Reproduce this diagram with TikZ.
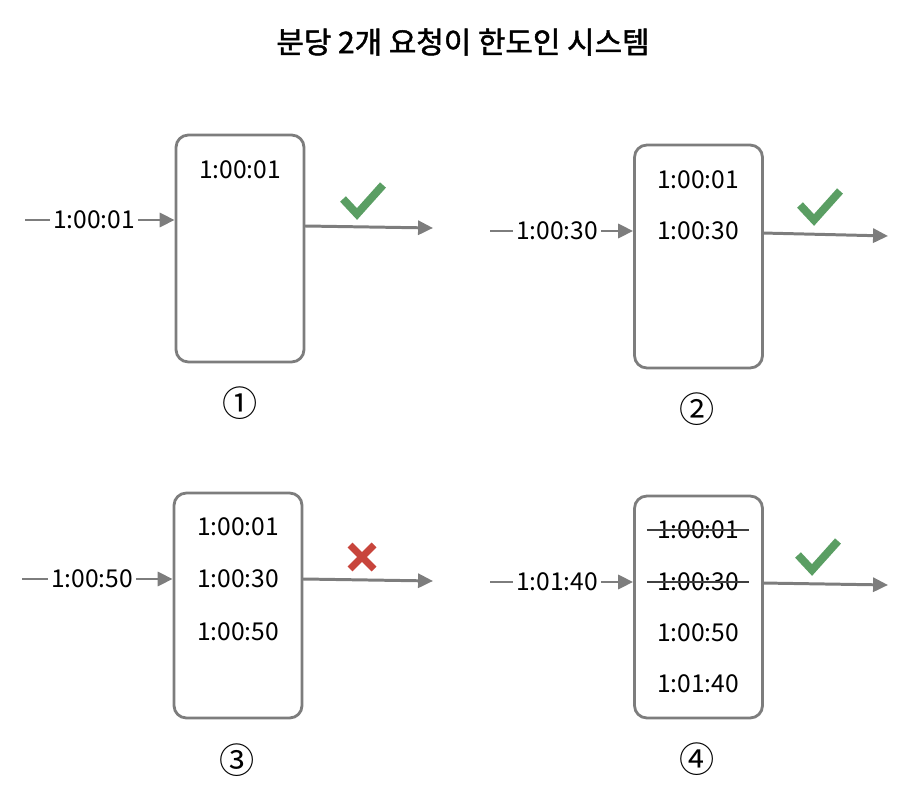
\documentclass[tikz,border=0pt]{standalone}
\usepackage{fontspec}
\setmainfont{Noto Sans CJK KR}
\newfontfamily\titlefont{Noto Sans CJK KR}[FakeBold=1.6]
\usetikzlibrary{arrows.meta}
\definecolor{linegray}{HTML}{7D7D7D}
\definecolor{okgreen}{HTML}{5A9E63}
\definecolor{nored}{HTML}{C8453C}
\newcommand{\okmark}[1]{\draw[okgreen,line width=4.5pt] (#1) ++(-20,-3) -- ++(14,15) -- ++(26,-29);}
\newcommand{\nomark}[1]{\draw[nored,line width=4pt] (#1) ++(-12,-12) -- ++(24,24) (#1) ++(12,-12) -- ++(-24,24);}
\begin{document}
\begin{tikzpicture}
[x=0.02cm, y=-0.02cm, line width=1.7pt, color=linegray,
 box/.style={draw=linegray, rounded corners=7pt, minimum width=2.56cm, line width=1.6pt},
 tm/.style={text=black, font=\fontsize{14}{17}\selectfont, inner sep=1pt},
 num/.style={text=black, font=\fontsize{20}{24}\selectfont},
 go/.style={-{Triangle[length=8.5pt,width=8pt]}},
 strike/.style={draw=black!75, line width=0.9pt}]
\useasboundingbox (0,0) rectangle (916,800);
\node [text=black, font=\fontsize{17}{20}\titlefont] (title) at (463,42) {분당 2개 요청이 한도인 시스템};
% (1)
\node [box, minimum height=4.54cm] (b1) at (240,248.5) {};
\node [tm] (r11) at (240,170) {1:00:01};
\node [tm] (l1) at (94,220) {1:00:01};
\coordinate (s1) at (25,220);
\coordinate (o1s) at (305,226);
\coordinate (o1) at (433,228);
\draw (s1) -- (l1);
\draw [go] (l1) -- (l1 -| b1.west);
\draw [go] (o1s) -- (o1);
\okmark{363,202}
\node [num] (n1) at (240,403) {①};
% (2)
\node [box, minimum height=4.46cm] (b2) at (698.5,256.5) {};
\node [tm] (r21) at (698,180) {1:00:01};
\node [tm] (r22) at (698,231) {1:00:30};
\node [tm] (l2) at (557,231) {1:00:30};
\coordinate (s2) at (490,231);
\coordinate (o2s) at (762,233);
\coordinate (o2) at (888,236);
\draw (s2) -- (l2);
\draw [go] (l2) -- (l2 -| b2.west);
\draw [go] (o2s) -- (o2);
\okmark{820,208}
\node [num] (n2) at (697,409) {②};
% (3)
\node [box, minimum height=4.5cm] (b3) at (238,605.5) {};
\node [tm] (r31) at (238,527) {1:00:01};
\node [tm] (r32) at (238,579) {1:00:30};
\node [tm] (r33) at (238,632) {1:00:50};
\node [tm] (l3) at (92,579) {1:00:50};
\coordinate (s3) at (22,579);
\coordinate (o3s) at (303,579);
\coordinate (o3) at (433,581);
\draw (s3) -- (l3);
\draw [go] (l3) -- (l3 -| b3.west);
\draw [go] (o3s) -- (o3);
\nomark{362,557}
\node [num] (n3) at (237,760) {③};
% (4)
\node [box, minimum height=4.44cm] (b4) at (698.5,607) {};
\node [tm] (r41) at (698,530) {1:00:01};
\node [tm] (r42) at (698,582) {1:00:30};
\node [tm] (r43) at (698,633) {1:00:50};
\node [tm] (r44) at (698,684) {1:01:40};
\node [tm] (l4) at (557,582) {1:01:40};
\coordinate (s4) at (490,582);
\coordinate (o4s) at (762,583);
\coordinate (o4) at (888,585);
\draw (s4) -- (l4);
\draw [go] (l4) -- (l4 -| b4.west);
\draw [go] (o4s) -- (o4);
\draw [strike] ([xshift=-4pt]r41.west) -- ([xshift=4pt]r41.east);
\draw [strike] ([xshift=-4pt]r42.west) -- ([xshift=4pt]r42.east);
\okmark{818,558}
\node [num] (n4) at (697,759) {④};
\end{tikzpicture}
\end{document}
